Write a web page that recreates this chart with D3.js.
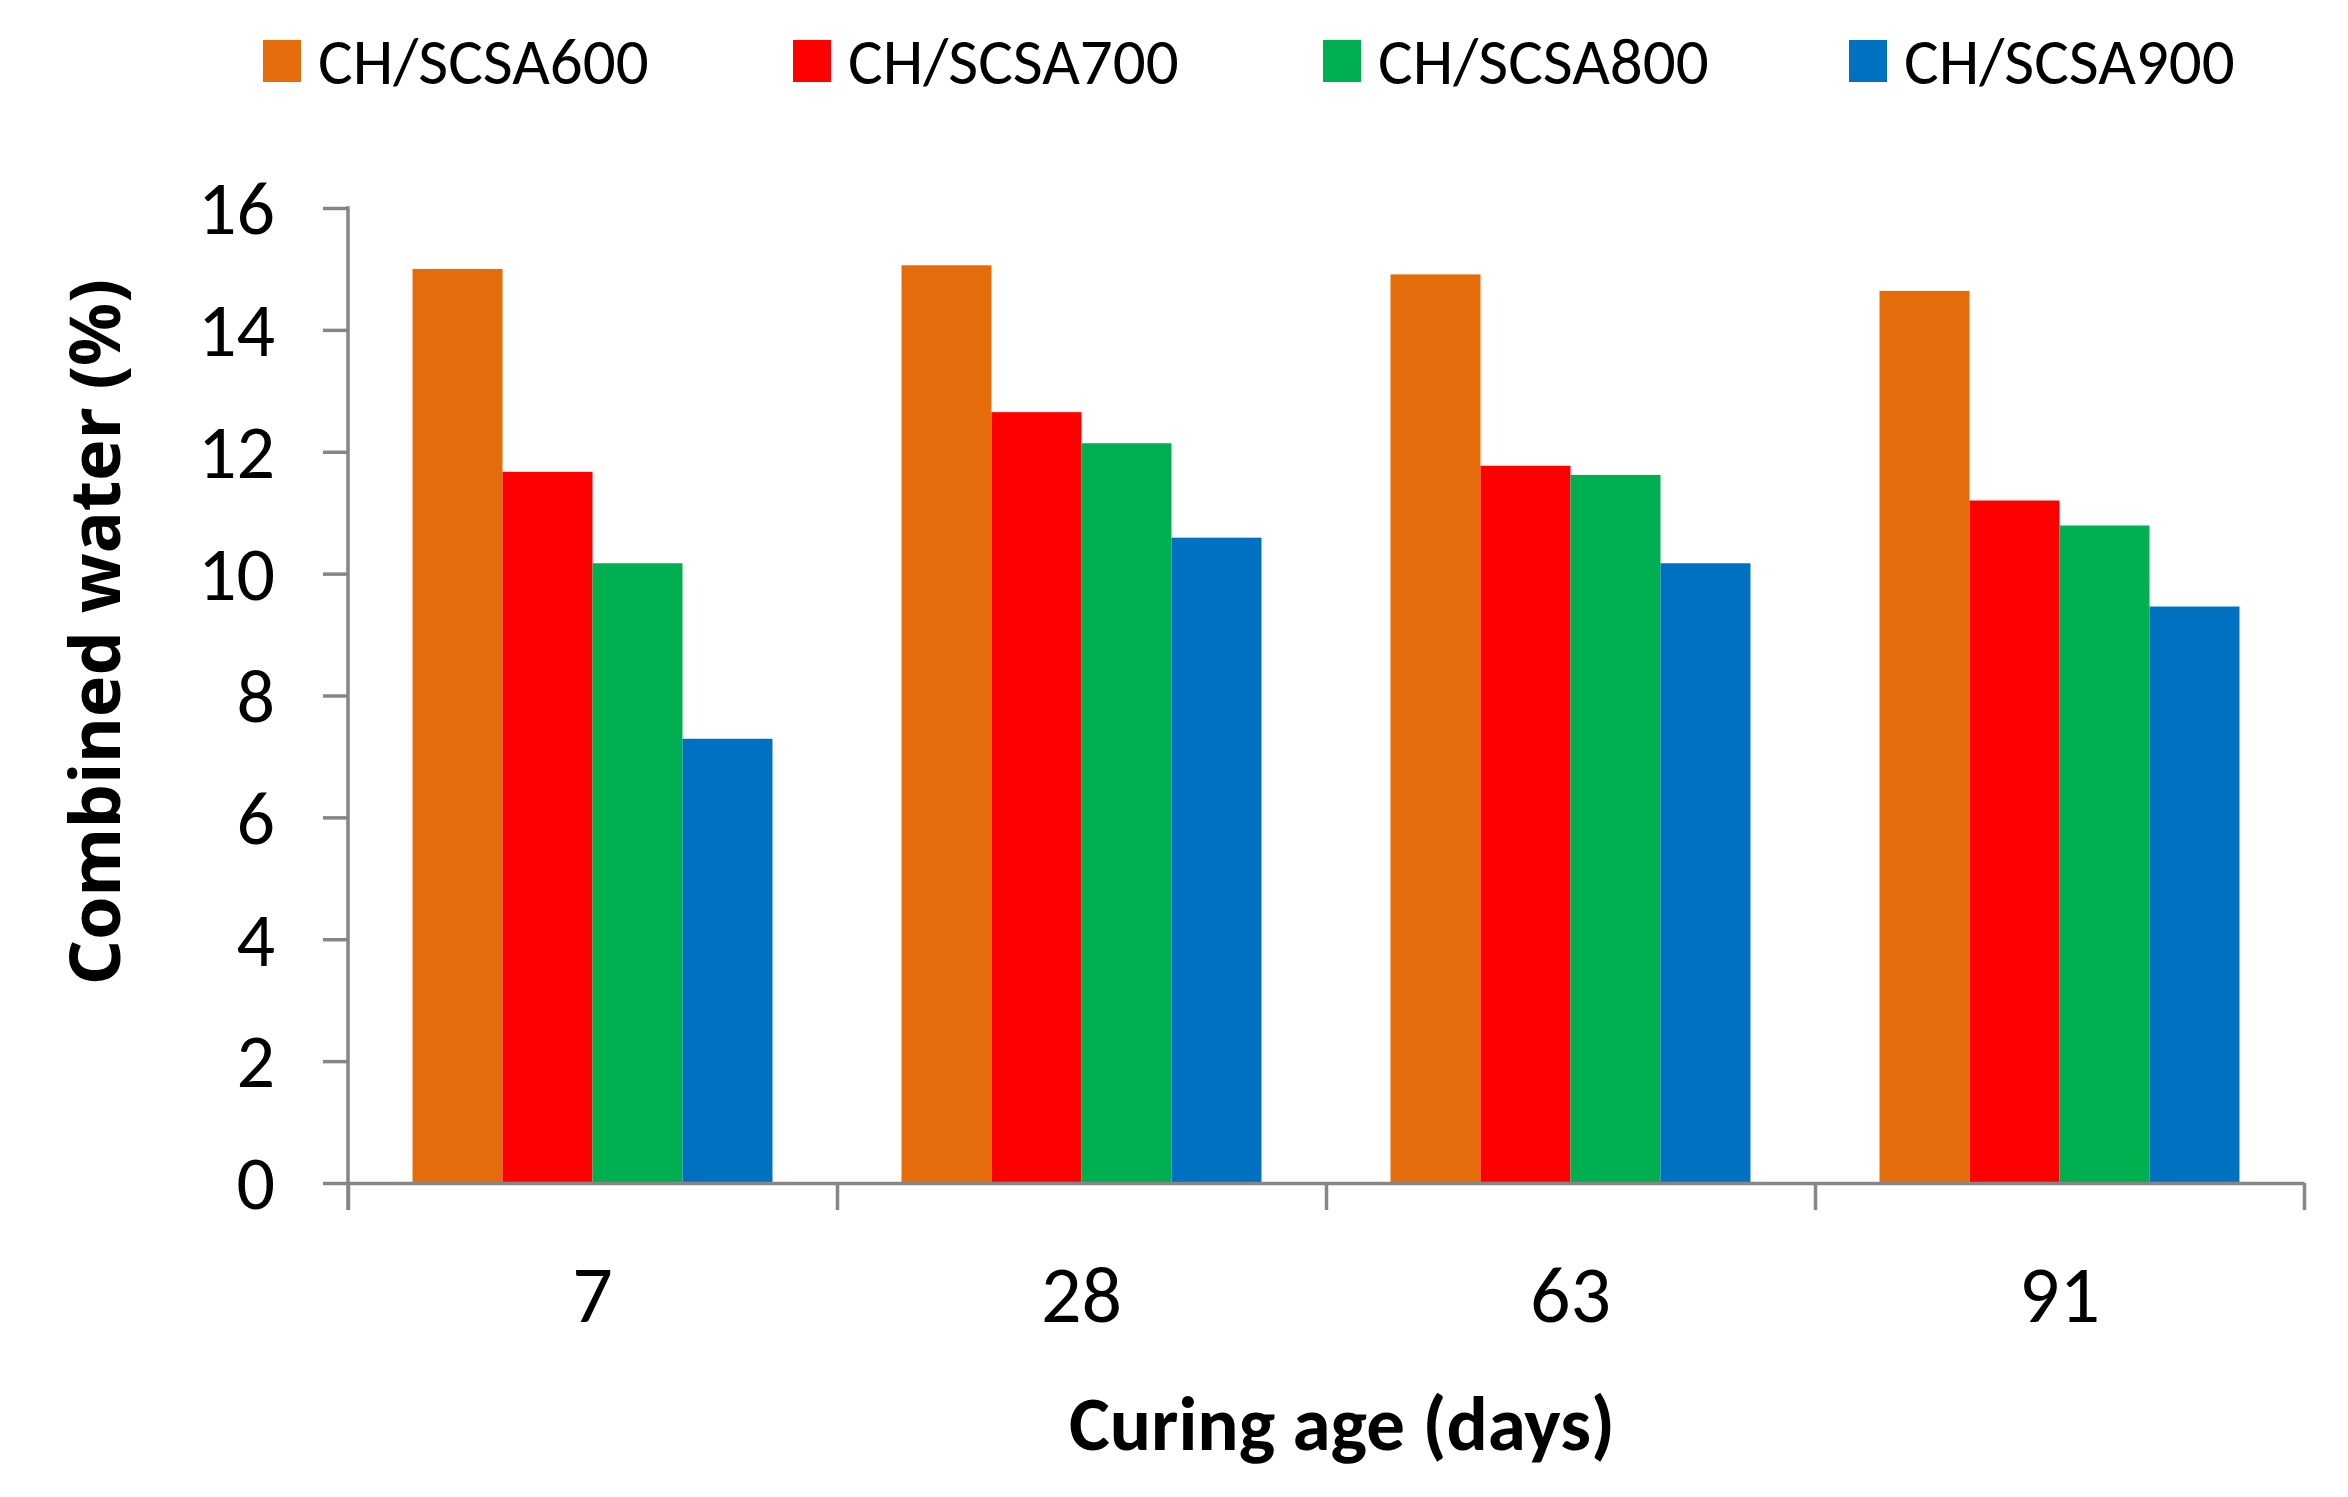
<!DOCTYPE html>
<html>
<head>
<meta charset="utf-8">
<script src="https://cdn.jsdelivr.net/npm/d3@7"></script>
<style>
  body { margin: 0; background: #fff; }
  svg { display: block; }
  .narrow { font-family: "Carlito", "Liberation Sans Narrow", "Roboto", sans-serif; }
</style>
</head>
<body>
<div id="chart"></div>
<script>
// data
var categories = ["7", "28", "63", "91"];
var series = ["CH/SCSA600", "CH/SCSA700", "CH/SCSA800", "CH/SCSA900"];
var colors = ["#E46C0A", "#FF0000", "#00B050", "#0070C0"];
var sca600 = [15.00, 15.06, 14.91, 14.64];
var sca700 = [11.67, 12.65, 11.77, 11.20];
var sca800 = [10.17, 12.14, 11.62, 10.79];
var sca900 = [7.29, 10.59, 10.17, 9.46];
var yTicks = [0, 2, 4, 6, 8, 10, 12, 14, 16];

var values = [sca600, sca700, sca800, sca900];

//basic frame size
var width = 2348, height = 1497;
var plotLeft = 348, plotRight = 2304, plotTop = 208, plotBottom = 1183;
var axisColor = "#868686";

var svg = d3.select("#chart").append("svg")
    .attr("width", width)
    .attr("height", height);

//scales
var x0 = d3.scaleBand().domain(categories).range([plotLeft, plotRight]).padding(0);
var x1 = d3.scaleBand().domain(series).range([0, x0.bandwidth()])
    .paddingInner(0).paddingOuter(0.717);
var y = d3.scaleLinear().domain([0, 16]).range([plotBottom, plotTop]);

//rows for the bars
var rows = [];
categories.forEach((c, i) => {
    series.forEach((s, j) => {
        rows.push({ cat: c, ser: s, val: values[j][i], color: colors[j] });
    });
});

svg.append("g").attr("class", "bars")
    .selectAll("rect")
    .data(rows)
    .enter()
    .append("rect")
    .attr("x", (d) => x0(d.cat) + x1(d.ser))
    .attr("y", (d) => y(d.val))
    .attr("width", x1.bandwidth())
    .attr("height", (d) => y(0) - y(d.val))
    .attr("fill", (d) => d.color);

//y axis
var yAxis = svg.append("g")
    .attr("transform", "translate(" + plotLeft + ",0)")
    .call(d3.axisLeft(y).tickValues(yTicks).tickSize(25).tickSizeOuter(0).tickPadding(48));
yAxis.select(".domain").remove();
yAxis.selectAll(".tick line").attr("stroke", axisColor).attr("stroke-width", 3.5);
yAxis.append("line")
    .attr("x1", 0).attr("x2", 0)
    .attr("y1", plotTop - 1.75).attr("y2", plotBottom + 27)
    .attr("stroke", axisColor).attr("stroke-width", 3.5);
yAxis.selectAll(".tick text")
    .attr("class", "narrow")
    .attr("fill", "#000")
    .style("font-size", "76px")
    .attr("dy", "0.34em");

//x axis: boundary ticks
var xb = d3.scaleLinear().domain([0, categories.length]).range([plotLeft, plotRight]);
var xAxis = svg.append("g")
    .attr("transform", "translate(0," + plotBottom + ")")
    .call(d3.axisBottom(xb).ticks(categories.length).tickSize(27).tickSizeOuter(0).tickFormat(""));
xAxis.select(".domain").attr("stroke", axisColor).attr("stroke-width", 3.5);
xAxis.selectAll(".tick line").attr("stroke", axisColor).attr("stroke-width", 3.5);

//category labels
var xLab = svg.append("g")
    .attr("transform", "translate(0," + plotBottom + ")")
    .call(d3.axisBottom(x0).tickSize(0).tickPadding(0));
xLab.select(".domain").remove();
xLab.selectAll(".tick text")
    .attr("class", "narrow")
    .attr("fill", "#000")
    .attr("y", 139)
    .attr("dy", 0)
    .style("font-size", "80px");

//axis titles
svg.append("text")
    .attr("class", "narrow")
    .attr("x", 1342)
    .attr("y", 1450)
    .attr("text-anchor", "middle")
    .style("font-size", "77px")
    .style("font-weight", "bold")
    .text("Curing age (days)");

svg.append("text")
    .attr("transform", "translate(120,632) rotate(-90)")
    .attr("text-anchor", "middle")
    .style("font-family", "'Noto Sans', 'DejaVu Sans', sans-serif")
    .style("font-size", "70px")
    .style("font-weight", "bold")
    .text("Combined water (%)");

//legend
var legendX = [263, 793, 1323, 1849];
var legend = svg.append("g").attr("class", "legend")
    .selectAll("g")
    .data(series)
    .enter()
    .append("g")
    .attr("transform", (d, i) => "translate(" + legendX[i] + ",0)");
legend.append("rect")
    .attr("x", 0).attr("y", 40)
    .attr("width", 38).attr("height", 42)
    .attr("fill", (d, i) => colors[i]);
legend.append("text")
    .attr("class", "narrow")
    .attr("x", 55)
    .attr("y", 84)
    .style("font-size", "65px")
    .attr("fill", "#000")
    .text((d) => d);
</script>
</body>
</html>
